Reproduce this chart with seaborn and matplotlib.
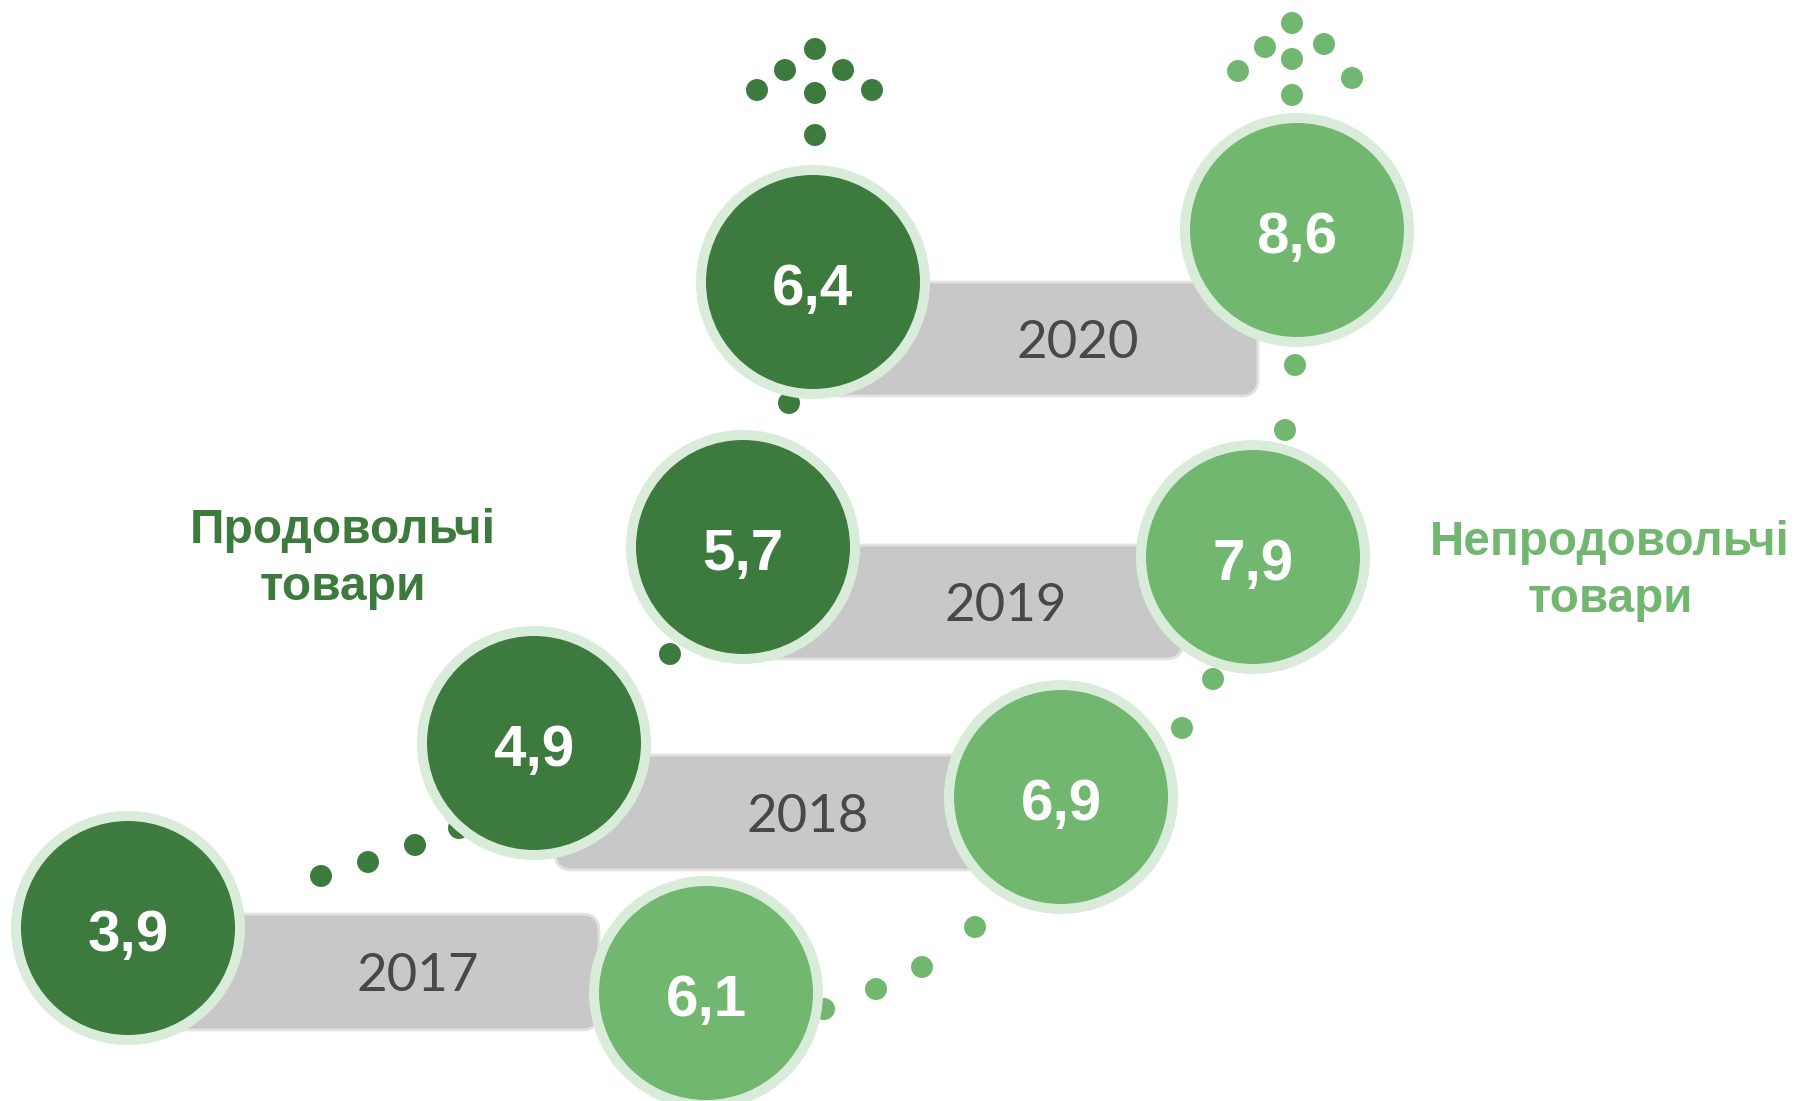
import numpy as np
import pandas as pd
import seaborn as sns
import matplotlib.pyplot as plt
from matplotlib.patches import Circle, FancyBboxPatch

# data
years = [2017, 2018, 2019, 2020]
food_values = [3.9, 4.9, 5.7, 6.4]
nonfood_values = [6.1, 6.9, 7.9, 8.6]
food_label = 'Продовольчі\nтовари'
nonfood_label = 'Непродовольчі\nтовари'

# layout (pixel coords, y grows downward)
food_x = [128, 534, 743, 813]
food_y = [928, 743, 547, 282]
nonfood_x = [706, 1061, 1253, 1297]
nonfood_y = [993, 797, 557, 230]
bar_x0 = [163, 555, 752, 824]
bar_x1 = [599, 990, 1183, 1258]
bar_y0 = [914, 755, 545, 282]
bar_y1 = [1030, 870, 659, 396]
year_x = [418, 808, 1006, 1078]

dark_dots_x = [321, 368, 415, 459, 670, 789, 815, 757, 785, 815, 843, 872, 815]
dark_dots_y = [876, 862, 845, 828, 654, 403, 135, 90, 70, 49, 70, 90, 93]
light_dots_x = [824, 876, 922, 975, 1182, 1213, 1285, 1295, 1292, 1238, 1265, 1292, 1324, 1352, 1292]
light_dots_y = [1009, 989, 967, 927, 728, 679, 430, 365, 95, 71, 47, 23, 44, 78, 59]

DARK = '#3D7A3E'
LIGHT = '#72B76F'
RING = '#D9ECDA'
GREY = '#C8C8C8'
YEAR_COL = '#4B4649'
R_OUT, R_IN = 117, 107

sns.set_theme(style='white')
plt.rcParams['font.family'] = ['Liberation Sans', 'DejaVu Sans']

W, H = 1798, 1101
fig = plt.figure(figsize=(W / 100, H / 100), dpi=100)
ax = fig.add_axes([0, 0, 1, 1])

# small connecting dots
dots = pd.concat([
    pd.DataFrame({'x': dark_dots_x, 'y': dark_dots_y, 'grp': 'food'}),
    pd.DataFrame({'x': light_dots_x, 'y': light_dots_y, 'grp': 'nonfood'}),
])
sns.scatterplot(data=dots, x='x', y='y', hue='grp', palette={'food': DARK, 'nonfood': LIGHT},
                s=250, linewidth=0, legend=False, ax=ax, zorder=2)

# grey year bars
for i, yr in enumerate(years):
    bar = FancyBboxPatch((bar_x0[i], bar_y0[i]), bar_x1[i] - bar_x0[i], bar_y1[i] - bar_y0[i],
                         boxstyle='round,pad=0,rounding_size=17', fc=GREY, ec='#E2E2E2', lw=2, zorder=1)
    ax.add_patch(bar)
    ax.text(year_x[i], (bar_y0[i] + bar_y1[i]) / 2 + 19, str(yr), ha='center', va='baseline',
            fontsize=38, family=['Lato', 'DejaVu Sans'], color=YEAR_COL, zorder=5)

# big circles
def big_circle(x, y, val, col):
    ax.add_patch(Circle((x, y), R_OUT, fc=RING, ec='none', zorder=3))
    ax.add_patch(Circle((x, y), R_IN, fc=col, ec='none', zorder=4))
    ax.text(x, y + 23, f'{val:.1f}'.replace('.', ','), ha='center', va='baseline',
            fontsize=42, fontweight='bold', color='white', zorder=5)

for i in range(len(years)):
    big_circle(food_x[i], food_y[i], food_values[i], DARK)
    big_circle(nonfood_x[i], nonfood_y[i], nonfood_values[i], LIGHT)

# category labels
l1, l2 = food_label.split('\n')
ax.text(343, 543, l1, ha='center', va='baseline', fontsize=34.5, fontweight='bold', color=DARK)
ax.text(343, 600, l2, ha='center', va='baseline', fontsize=34.5, fontweight='bold', color=DARK)
n1, n2 = nonfood_label.split('\n')
ax.text(1610, 555, n1, ha='center', va='baseline', fontsize=34.3, fontweight='bold', color=LIGHT)
ax.text(1610, 612, n2, ha='center', va='baseline', fontsize=34.3, fontweight='bold', color=LIGHT)

ax.set_xlim(0, W)
ax.set_ylim(H, 0)
ax.axis('off')
fig.savefig('out.png', dpi=100, facecolor='white')
